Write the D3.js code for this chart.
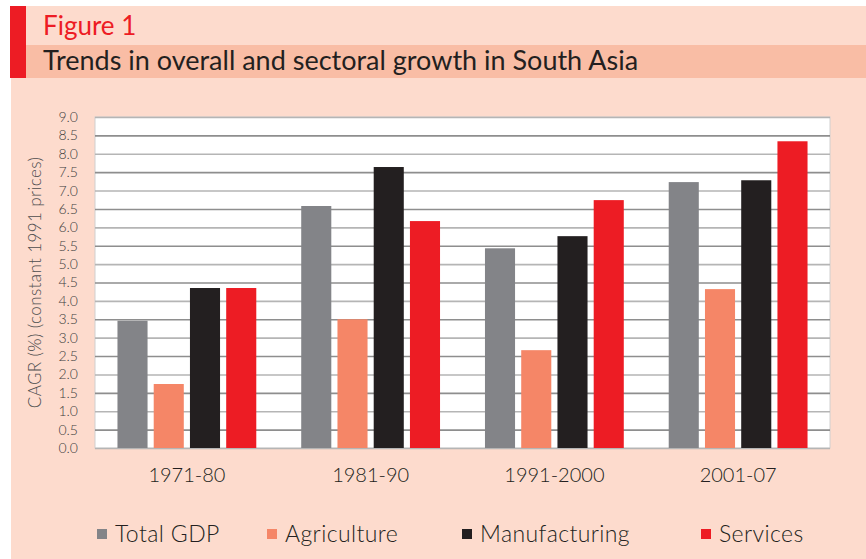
<!DOCTYPE html>
<html>
<head>
<meta charset="utf-8">
<script src="https://cdn.jsdelivr.net/npm/d3@7"></script>
<style>
  html, body { margin: 0; padding: 0; background: #fff; }
  svg { display: block; font-family: Lato, "Open Sans", sans-serif; }
</style>
</head>
<body>
<svg id="chart" width="866" height="559"></svg>
<script>
const periods = ['1971-80', '1981-90', '1991-2000', '2001-07'];
const seriesNames = ['Total GDP', 'Agriculture', 'Manufacturing', 'Services'];
const totalGdp = [3.46, 6.58, 5.43, 7.23];
const agriculture = [1.74, 3.5, 2.66, 4.32];
const manufacturing = [4.35, 7.64, 5.76, 7.28];
const services = [4.35, 6.17, 6.74, 8.34];
const yTicks = [0, 0.5, 1, 1.5, 2, 2.5, 3, 3.5, 4, 4.5, 5, 5.5, 6, 6.5, 7, 7.5, 8, 8.5, 9];

const seriesValues = [totalGdp, agriculture, manufacturing, services];
const colors = ['#838488', '#f58667', '#231f20', '#ed1c24'];

const svg = d3.select('#chart');
const W = 866, H = 559;
const plot = { left: 95, right: 830, top: 117, bottom: 448 };

// background + header
svg.append('rect').attr('x', 0).attr('y', 0).attr('width', W).attr('height', H).attr('fill', '#fff');
svg.append('rect').attr('x', 11).attr('y', 6).attr('width', W - 11).attr('height', H - 6).attr('fill', '#fddbcd');
svg.append('rect').attr('x', 11).attr('y', 45).attr('width', W - 11).attr('height', 33).attr('fill', '#f9bda5');
svg.append('rect').attr('x', 10).attr('y', 6).attr('width', 16).attr('height', 72).attr('fill', '#ed1c24');

svg.append('text')
  .attr('x', 43).attr('y', 35)
  .attr('fill', '#ed1c24')
  .style('font-size', '26px')
  .text('Figure 1');

svg.append('text')
  .attr('x', 43).attr('y', 70)
  .attr('fill', '#231f20')
  .style('font-size', '27px')
  .text('Trends in overall and sectoral growth in South Asia');

// plot area
svg.append('rect')
  .attr('x', plot.left).attr('y', plot.top)
  .attr('width', plot.right - plot.left).attr('height', plot.bottom - plot.top)
  .attr('fill', '#fff')
  .attr('stroke', '#d0d0d0')
  .attr('stroke-width', 1);

const x0 = d3.scaleBand()
  .domain(periods)
  .range([plot.left, plot.right])
  .padding(0);

const x1 = d3.scaleBand()
  .domain(seriesNames)
  .range([0, x0.bandwidth()])
  .paddingInner(0.17)
  .paddingOuter(0.62);

const y = d3.scaleLinear()
  .domain([0, 9])
  .range([plot.bottom, plot.top]);

// gridlines
const grid = svg.append('g')
  .attr('transform', `translate(${plot.left},0)`)
  .call(d3.axisLeft(y).tickValues(yTicks).tickSize(-(plot.right - plot.left)).tickFormat(''));
grid.select('.domain').remove();
grid.selectAll('line')
  .attr('stroke', (d, i) => i % 2 ? '#8e8e8e' : '#b5b5b5')
  .attr('stroke-width', 1.6);

// bars
const groups = svg.append('g')
  .selectAll('g')
  .data(periods)
  .join('g')
  .attr('transform', d => `translate(${x0(d)},0)`);

groups.selectAll('rect')
  .data((p, i) => seriesNames.map((s, k) => ({ series: s, k, value: seriesValues[k][i] })))
  .join('rect')
  .attr('x', d => x1(d.series))
  .attr('y', d => y(d.value))
  .attr('width', x1.bandwidth())
  .attr('height', d => plot.bottom - y(d.value))
  .attr('fill', d => colors[d.k]);

// y axis labels
const yAxis = svg.append('g')
  .attr('transform', `translate(${plot.left - 17},0)`)
  .call(d3.axisLeft(y).tickValues(yTicks).tickSize(0).tickPadding(0).tickFormat(d3.format('.1f')));
yAxis.select('.domain').remove();
yAxis.selectAll('text')
  .attr('fill', '#3d3d3d')
  .style('font-family', 'Lato, sans-serif')
  .style('font-weight', 300)
  .style('font-size', '14px');

// x axis labels
const xAxis = svg.append('g')
  .attr('transform', `translate(0,${plot.bottom})`)
  .call(d3.axisBottom(x0).tickSize(0).tickPadding(20));
xAxis.select('.domain').remove();
xAxis.selectAll('text')
  .attr('fill', '#231f20')
  .style('font-family', 'Lato, sans-serif')
  .style('font-weight', 300)
  .style('font-size', '20px');

// y axis title
svg.append('text')
  .attr('transform', `translate(41,${(plot.top + plot.bottom) / 2}) rotate(-90)`)
  .attr('text-anchor', 'middle')
  .attr('fill', '#4d4d4d')
  .style('font-weight', 300)
  .style('font-size', '17px')
  .style('letter-spacing', '0.4px')
  .text('CAGR (%) (constant 1991 prices)');

// legend
const legendX = [97, 267, 462, 701];
const legend = svg.append('g')
  .selectAll('g')
  .data(seriesNames)
  .join('g')
  .attr('transform', (d, i) => `translate(${legendX[i]},529)`);

legend.append('rect')
  .attr('width', 10).attr('height', 10)
  .attr('fill', (d, i) => colors[i]);

legend.append('text')
  .attr('x', 18).attr('y', 13)
  .attr('fill', '#231f20')
  .style('font-weight', 300)
  .style('font-size', '23px')
  .style('letter-spacing', '0.4px')
  .text(d => d);
</script>
</body>
</html>
